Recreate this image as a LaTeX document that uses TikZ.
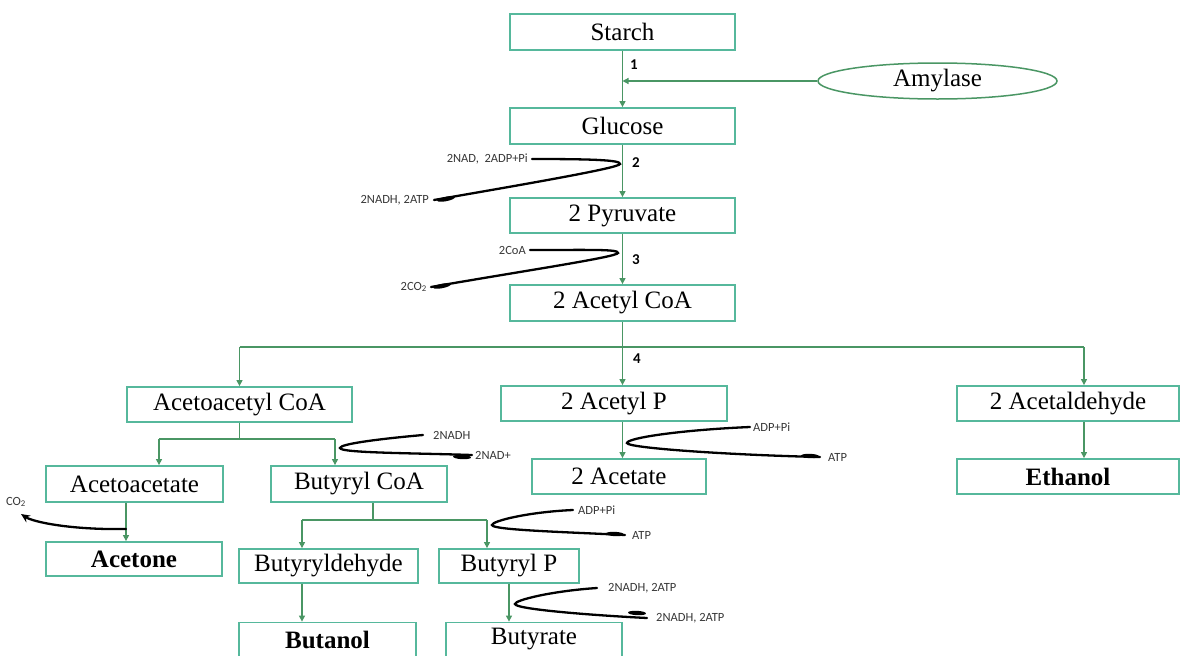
\documentclass[tikz,border=0pt]{standalone}
\usepackage{fontspec}
\setmainfont{Liberation Serif}
\newfontfamily\labfont{Carlito}
\usetikzlibrary{arrows.meta,shapes.geometric}
\definecolor{boxcol}{RGB}{86,184,156}
\definecolor{arrcol}{RGB}{74,150,100}
\definecolor{labcol}{RGB}{55,55,55}
\begin{document}
\begin{tikzpicture}[x=1pt,y=-1pt,
 box/.style={draw=boxcol, line width=1.8pt, minimum height=35pt, inner sep=0pt, font=\fontsize{25}{28}\selectfont},
 bbox/.style={box, font=\fontsize{25}{28}\selectfont\bfseries},
 arr/.style={draw=arrcol, line width=1.2pt, -{Triangle[length=6pt,width=6pt]}},
 ln/.style={draw=arrcol, line width=1.2pt},
 cof/.style={draw=black, line width=2.3pt, line cap=round},
 blob/.style={fill=black},
 lab/.style={font=\labfont\fontsize{12.5}{13}\selectfont, inner sep=0pt, text=labcol},
 num/.style={font=\labfont\bfseries\fontsize{15}{16}\selectfont, inner sep=0pt}]
\useasboundingbox (0,0) rectangle (1181,656);

% boxes
\node[box, minimum width=225pt, minimum height=36pt] (starch) at (622.5,32) {Starch};
\node[ellipse, draw=arrcol, line width=1.5pt, minimum width=239pt, minimum height=36pt, inner sep=0pt, font=\fontsize{25}{28}\selectfont] (amylase) at (937.5,81) {Amylase};
\node[box, minimum width=225pt, minimum height=36pt] (glucose) at (622.5,126) {Glucose};
\node[box, minimum width=225pt] (pyruvate) at (622.5,215.5) {2 Pyruvate};
\node[box, minimum width=225pt, minimum height=36pt] (acetylcoa) at (622.5,303) {2 Acetyl CoA};
\node[box, minimum width=225pt] (acetoacetylcoa) at (239.5,404.5) {Acetoacetyl CoA};
\node[box, minimum width=226pt] (acetylp) at (614,403.5) {2 Acetyl P};
\node[box, minimum width=222pt] (acetaldehyde) at (1068,403.5) {2 Acetaldehyde};
\node[bbox, minimum width=222pt] (ethanol) at (1068,476.5) {Ethanol};
\node[box, minimum width=177pt, minimum height=36pt] (acetoacetate) at (134.5,484) {Acetoacetate};
\node[box, minimum width=176pt, minimum height=36pt] (butyrylcoa) at (359,484) {Butyryl CoA};
\node[box, minimum width=174pt] (acetate) at (619,476.5) {2 Acetate};
\node[bbox, minimum width=176pt, minimum height=34pt] (acetone) at (134,559) {Acetone};
\node[box, minimum width=179pt, minimum height=34pt] (butyryldehyde) at (328.5,566) {Butyryldehyde};
\node[box, minimum width=140pt, minimum height=34pt] (butyrylp) at (509,566) {Butyryl P};
\node[bbox, minimum width=177pt, minimum height=34pt] (butanol) at (327.5,639.5) {Butanol};
\node[box, minimum width=176pt, minimum height=34pt] (butyrate) at (534,639.5) {Butyrate};

% main chain
\draw[arr] (starch.south) -- (glucose.north);
\coordinate (amy) at (starch.south |- amylase.west);
\draw[arr] (amylase.west) -- (amy);
\draw[arr] (glucose.south) -- (pyruvate.north);
\draw[arr] (pyruvate.south) -- (acetylcoa.north);

% split 4
\coordinate (hl) at (239.5,347);
\coordinate (hr) at (1084,347);
\coordinate (hm) at (acetylcoa.south |- hl);
\draw[ln] (acetylcoa.south) -- (hm);
\draw[ln] (hl) -- (hr);
\draw[arr] (hm) -- (hm |- acetylp.north);
\draw[arr] (hl) -- (acetoacetylcoa.north);
\draw[arr] (hr) -- (hr |- acetaldehyde.north);
\draw[arr] (hm |- acetylp.south) -- (hm |- acetate.north);
\draw[arr] (hr |- acetaldehyde.south) -- (hr |- ethanol.north);

% acetoacetyl branch
\coordinate (b1) at (239.5,439);
\coordinate (b1l) at (159,439);
\coordinate (b1r) at (335,439);
\draw[ln] (acetoacetylcoa.south) -- (b1);
\draw[ln] (b1l) -- (b1r);
\draw[arr] (b1l) -- (b1l |- acetoacetate.north);
\draw[arr] (b1r) -- (b1r |- butyrylcoa.north);
\coordinate (aa) at (126,529);
\draw[arr] (aa |- acetoacetate.south) -- (aa |- acetone.north);

% butyryl branch
\coordinate (b2) at (373,520);
\coordinate (b2l) at (302,520);
\coordinate (b2r) at (487,520);
\draw[ln] (b2 |- butyrylcoa.south) -- (b2);
\draw[ln] (b2l) -- (b2r);
\draw[arr] (b2l) -- (b2l |- butyryldehyde.north);
\draw[arr] (b2r) -- (b2r |- butyrylp.north);
\draw[arr] (b2l |- butyryldehyde.south) -- (b2l |- butanol.north);
\coordinate (bp) at (509,0);
\draw[arr] (bp |- butyrylp.south) -- (bp |- butyrate.north);

% step numbers
\node[num] (n1) at (634,65) {1};
\node[num] (n2) at (636,163) {2};
\node[num] (n3) at (636,260) {3};
\node[num] (n4) at (637,359) {4};

% cofactor labels
\node[lab, anchor=east] (l2a) at (528,159) {2NAD,\ \ 2ADP+Pi};
\node[lab, anchor=east] (l2b) at (429,200) {2NADH, 2ATP};
\node[lab, anchor=east] (l3a) at (526,250) {2CoA};
\node[lab, anchor=east] (l3b) at (427,287) {2CO\textsubscript{2}};
\node[lab, anchor=west] (l4a) at (433,435) {2NADH};
\node[lab, anchor=west] (l4b) at (475,455) {2NAD+};
\node[lab, anchor=west] (l5a) at (753,427) {ADP+Pi};
\node[lab, anchor=west] (l5b) at (828,457) {ATP};
\node[lab, anchor=west] (l6a) at (578,510) {ADP+Pi};
\node[lab, anchor=west] (l6b) at (632,535) {ATP};
\node[lab, anchor=west] (l7a) at (608,588) {2NADH, 2ATP};
\node[lab, anchor=west] (l7b) at (656,618) {2NADH, 2ATP};
\node[lab] (lco2) at (16,502) {CO\textsubscript{2}};

% cofactor curves
\coordinate (t2) at (620,164);
\draw[cof] ([xshift=4pt]l2a.east) .. controls +(60,0) and +(1,-4) .. (t2) .. controls +(-1,4) and +(92,-16) .. ([xshift=5pt]l2b.east);
\fill[blob, rotate around={11:(446,199)}] (446,199) ellipse (9 and 2.2);

\coordinate (t3) at (618,253);
\draw[cof] ([xshift=4pt]l3a.east) .. controls +(60,0) and +(1,-4) .. (t3) .. controls +(-1,4) and +(92,-16) .. ([xshift=4pt]l3b.east);
\fill[blob, rotate around={11:(442,286)}] (442,286) ellipse (9 and 2.2);

\coordinate (t4) at (340,448);
\draw[cof] ([xshift=-10pt]l4a.west) .. controls +(-45,4) and +(0,-4) .. (t4) .. controls +(0,5) and +(-60,-2) .. ([xshift=-3pt]l4b.west);
\fill[blob, rotate around={-3:(462,457)}] (462,457) ellipse (9 and 2.2);

\coordinate (t5) at (627,443);
\draw[cof] ([xshift=-3pt]l5a.west) .. controls +(-70,3) and +(0,-5) .. (t5) .. controls +(0,5) and +(-90,-2) .. ([xshift=-8pt]l5b.west);
\fill[blob, rotate around={-2:(810,456)}] (810,456) ellipse (9 and 2.2);

\coordinate (t6) at (492,525);
\draw[cof] ([xshift=-5pt]l6a.west) .. controls +(-45,2) and +(0,-4) .. (t6) .. controls +(0,5) and +(-60,-3) .. ([xshift=-7pt]l6b.west);
\fill[blob, rotate around={-3:(615,534)}] (615,534) ellipse (9 and 2.2);

\coordinate (t7) at (515,604);
\draw[cof] ([xshift=-11pt]l7a.west) .. controls +(-45,3) and +(0,-4) .. (t7) .. controls +(0,5) and +(-60,-3) .. ([xshift=-9pt]l7b.west);
\fill[blob, rotate around={-3:(637,613)}] (637,613) ellipse (9 and 2.2);

\coordinate (co2tip) at (21,514);
\draw[cof, -{Stealth[length=9pt,width=8pt]}] (aa) .. controls +(-55,1) and +(12,8) .. (co2tip);
\end{tikzpicture}
\end{document}
